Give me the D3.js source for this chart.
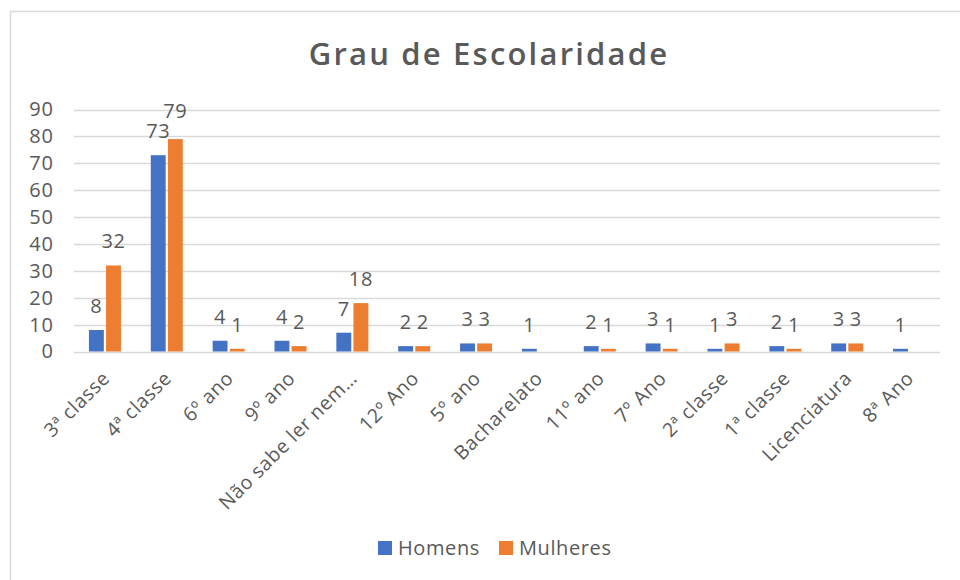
<!DOCTYPE html>
<html>
<head>
<meta charset="utf-8">
<script src="https://cdn.jsdelivr.net/npm/d3@7"></script>
<style>
  body { margin: 0; background: #fff; }
  text { font-family: "Open Sans", sans-serif; fill: #595959; }
</style>
</head>
<body>
<script>
const categories = ["3ª classe", "4ª classe", "6º ano", "9º ano", "Não sabe ler nem…", "12º Ano", "5º ano",
  "Bacharelato", "11º ano", "7º Ano", "2ª classe", "1ª classe", "Licenciatura", "8ª Ano"];
const homens = [8, 73, 4, 4, 7, 2, 3, 1, 2, 3, 1, 2, 3, 1];
const mulheres = [32, 79, 1, 2, 18, 2, 3, null, 1, 1, 3, 1, 3, null];
const yTicks = [0, 10, 20, 30, 40, 50, 60, 70, 80, 90];
const seriesNames = ["Homens", "Mulheres"];
const colors = ["#4472C4", "#ED7D31"];

const width = 960, height = 580;
const plot = { left: 74, right: 940, top: 109.5, bottom: 351.5 };

const svg = d3.select("body").append("svg")
  .attr("width", width)
  .attr("height", height);

// chart frame
svg.append("rect")
  .attr("x", 10.5).attr("y", 11.5)
  .attr("width", 980).attr("height", 600)
  .attr("fill", "none")
  .attr("stroke", "#d9d9d9")
  .attr("stroke-width", 1.5);

svg.append("text")
  .attr("x", 489)
  .attr("y", 65)
  .attr("text-anchor", "middle")
  .style("font-size", "31px")
  .style("font-weight", "600")
  .style("letter-spacing", "2.2px")
  .text("Grau de Escolaridade");

const x = d3.scaleBand()
  .domain(categories)
  .range([plot.left, plot.right]);

const xInner = d3.scaleBand()
  .domain(seriesNames)
  .range([x.bandwidth() / 2 - 16, x.bandwidth() / 2 + 16])
  .paddingInner(0.13);

const y = d3.scaleLinear()
  .domain([0, 90])
  .range([plot.bottom, plot.top]);

// gridlines
svg.append("g")
  .selectAll("line")
  .data(yTicks)
  .join("line")
  .attr("x1", plot.left).attr("x2", plot.right)
  .attr("y1", d => Math.round(y(d)) + 0.5)
  .attr("y2", d => Math.round(y(d)) + 0.5)
  .attr("stroke", "#d9d9d9")
  .attr("stroke-width", 1.5);

// y axis labels
const yAxis = svg.append("g")
  .attr("transform", `translate(${plot.left - 20},0)`)
  .call(d3.axisLeft(y).tickValues(yTicks).tickSize(0).tickPadding(0));
yAxis.select(".domain").remove();
yAxis.selectAll("text")
  .attr("fill", "#595959")
  .style("font-size", "20px")
  .style("letter-spacing", "1px")
  .style("font-family", "Open Sans, sans-serif");

// x axis labels
const xAxis = svg.append("g")
  .attr("transform", `translate(0,${plot.bottom})`)
  .call(d3.axisBottom(x).tickSize(0).tickPadding(0));
xAxis.select(".domain").remove();
xAxis.selectAll("text")
  .attr("fill", "#595959")
  .style("font-size", "19.5px")
  .style("letter-spacing", "0.6px")
  .style("font-family", "Open Sans, sans-serif")
  .attr("text-anchor", "end")
  .attr("dy", "0")
  .attr("transform", "translate(6,28) rotate(-45)");

const rows = categories.map((c, i) => ({ cat: c, vals: [homens[i], mulheres[i]] }));

const groups = svg.append("g")
  .selectAll("g")
  .data(rows)
  .join("g")
  .attr("transform", d => `translate(${x(d.cat)},0)`);

const cells = groups.selectAll("g")
  .data(d => d.vals.map((v, j) => ({ name: seriesNames[j], v, j, other: d.vals[1 - j] }))
    .filter(e => e.v !== null))
  .join("g");

cells.append("rect")
  .attr("x", d => xInner(d.name))
  .attr("y", d => y(d.v))
  .attr("width", xInner.bandwidth())
  .attr("height", d => y(0) - y(d.v))
  .attr("fill", d => colors[d.j]);

// label baseline, lifting the higher label when the two would collide
const labelY = d => {
  let ly = y(d.v) - 17;
  if (d.other !== null && d.v > d.other) {
    const oy = y(d.other) - 17;
    if (oy - ly < 20 && oy - ly > 12) ly = oy - 20;
  }
  return ly;
};

cells.append("text")
  .attr("x", d => xInner(d.name) + xInner.bandwidth() / 2)
  .attr("y", labelY)
  .attr("text-anchor", "middle")
  .style("font-size", "20px")
  .style("letter-spacing", "0.6px")
  .text(d => d.v);

// legend
const legend = svg.append("g")
  .attr("transform", "translate(378,548)");
const legX = [0, 121];
seriesNames.forEach((s, i) => {
  legend.append("rect")
    .attr("x", legX[i]).attr("y", -7)
    .attr("width", 14).attr("height", 14)
    .attr("fill", colors[i]);
  legend.append("text")
    .attr("x", legX[i] + 20)
    .attr("y", 0)
    .attr("dy", "0.35em")
    .style("font-size", "20px")
    .style("letter-spacing", "0.6px")
    .text(s);
});
</script>
</body>
</html>
